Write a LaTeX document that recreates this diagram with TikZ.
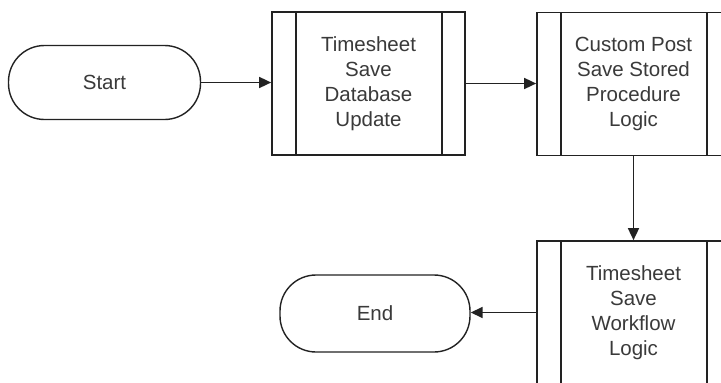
\documentclass[tikz,border=0pt]{standalone}
\usepackage{fontspec}
\setmainfont{Liberation Sans}
\usetikzlibrary{arrows.meta}
\definecolor{linecol}{HTML}{222222}
\definecolor{txtcol}{HTML}{3A3A3A}
\begin{document}
\begin{tikzpicture}[x=1pt,y=-1pt,
  every node/.style={text=txtcol, font=\fontsize{20.5}{25}\selectfont, align=center, inner sep=0pt},
  term/.style={draw=linecol, line width=1.4pt, rectangle, rounded corners=36pt, minimum width=192pt, minimum height=74pt},
  proc/.style={draw=linecol, line width=1.7pt, rectangle, minimum width=193pt, minimum height=143pt,
    path picture={
      \draw[linecol, line width=1.6pt] ([xshift=24pt]path picture bounding box.north west) -- ([xshift=24pt]path picture bounding box.south west);
      \draw[linecol, line width=1.6pt] ([xshift=-23pt]path picture bounding box.north east) -- ([xshift=-23pt]path picture bounding box.south east);
    }},
  arr/.style={draw=linecol, line width=1.6pt, -{Triangle[length=12pt,width=11pt]}}
]
\useasboundingbox[fill=white] (0,0) rectangle (721,383);
\begin{scope}
\clip (0,0) rectangle (721,383);
\node[term] (start) at (104.5,82.5) {Start};
\node[proc] (box1) at (368.5,83.5) {Timesheet\\Save\\Database\\Update};
\node[proc] (box2) at (633.5,84) {Custom Post\\Save Stored\\Procedure\\Logic};
\node[proc] (box3) at (633.5,312.5) {Timesheet\\Save\\Workflow\\Logic};
\node[term, minimum width=190pt, minimum height=77pt] (end) at (375,313.5) {End};
\draw[arr] (start.east) -- (start.east -| box1.west);
\draw[arr] (box1.east) -- (box1.east -| box2.west);
\draw[arr] (box2.south) -- (box3.north);
\draw[arr] (box3.west) -- (box3.west -| end.east);
\end{scope}
\end{tikzpicture}
\end{document}
